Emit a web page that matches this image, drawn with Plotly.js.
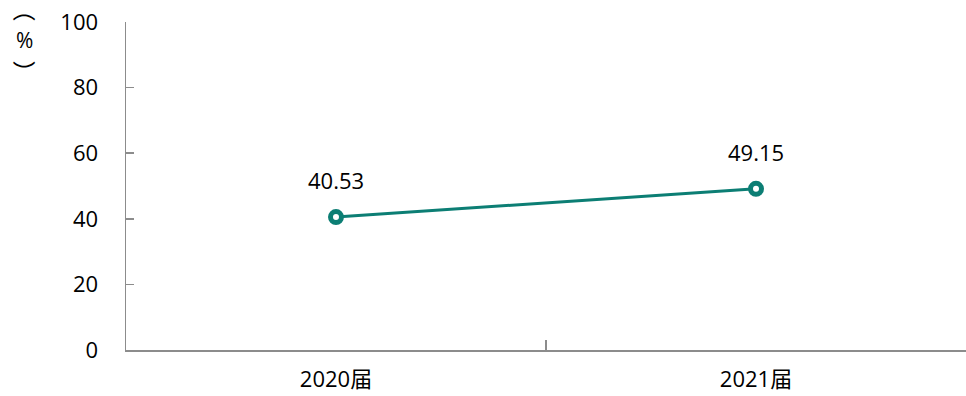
<!DOCTYPE html>
<html>
<head>
<meta charset="utf-8">
<script src="https://cdn.plot.ly/plotly-3.0.1.min.js"></script>
<style>html,body{margin:0;padding:0;background:#fff;}#chart{width:966px;height:396px;}</style>
</head>
<body>
<div id="chart"></div>
<script>
const categories = ["2020届", "2021届"];
const values = [40.53, 49.15];
const labels = ["40.53", "49.15"];
const yTicks = [0, 20, 40, 60, 80, 100];

const teal = "#0C7E74";
const font = "Open Sans, Noto Sans CJK SC, sans-serif";

const trace = {
  x: categories,
  y: values,
  type: "scatter",
  mode: "lines+markers",
  line: {color: teal, width: 3},
  marker: {symbol: "circle", size: 11, color: "#ffffff", line: {color: teal, width: 5}},
  hoverinfo: "none",
  cliponaxis: false
};

const annotations = categories.map((c, i) => ({
  x: c, y: values[i], xref: "x", yref: "y",
  text: labels[i], showarrow: false, yshift: 37,
  font: {family: font, size: 22, color: "#000"}
}));
// vertical y-axis title （%）: parentheses turned, % upright
function px(p) { return (p - 126) / 840; }
function py(p) { return (350 - p) / 328; }
annotations.push({
  xref: "paper", yref: "paper", x: px(22.5), y: py(10), xanchor: "center", yanchor: "middle",
  text: "）", textangle: -90, showarrow: false,
  font: {family: "Noto Sans CJK SC, sans-serif", size: 23, color: "#000"}
});
annotations.push({
  xref: "paper", yref: "paper", x: px(24.5), y: py(40), xanchor: "center", yanchor: "middle",
  text: "%", showarrow: false,
  font: {family: font, size: 21, color: "#000"}
});
annotations.push({
  xref: "paper", yref: "paper", x: px(22.5), y: py(72), xanchor: "center", yanchor: "middle",
  text: "（", textangle: -90, showarrow: false,
  font: {family: "Noto Sans CJK SC, sans-serif", size: 23, color: "#000"}
});

const layout = {
  width: 966, height: 396,
  margin: {l: 126, r: 0, t: 22, b: 46},
  paper_bgcolor: "#fff", plot_bgcolor: "#fff",
  showlegend: false,
  font: {family: font, size: 22, color: "#000"},
  xaxis: {
    type: "category",
    range: [-0.5, 1.5],
    showgrid: false, zeroline: false,
    showline: true, linecolor: "#8c8c8c", linewidth: 1.5,
    ticks: "inside", tickson: "boundaries", ticklen: 10, tickcolor: "#8c8c8c", tickwidth: 1.5,
    ticklabelstandoff: 9,
    tickfont: {family: font, size: 22, color: "#000"}
  },
  yaxis: {
    range: [0, 100],
    tickvals: yTicks,
    ticktext: yTicks.map(String),
    showgrid: false, zeroline: false,
    showline: true, linecolor: "#8c8c8c", linewidth: 1.5,
    ticks: "inside", ticklen: 8, tickcolor: "#8c8c8c", tickwidth: 1.5,
    ticklabelstandoff: 22,
    tickfont: {family: font, size: 22, color: "#000"}
  },
  annotations: annotations
};

Plotly.newPlot("chart", [trace], layout, {staticPlot: true, displayModeBar: false});
</script>
</body>
</html>
